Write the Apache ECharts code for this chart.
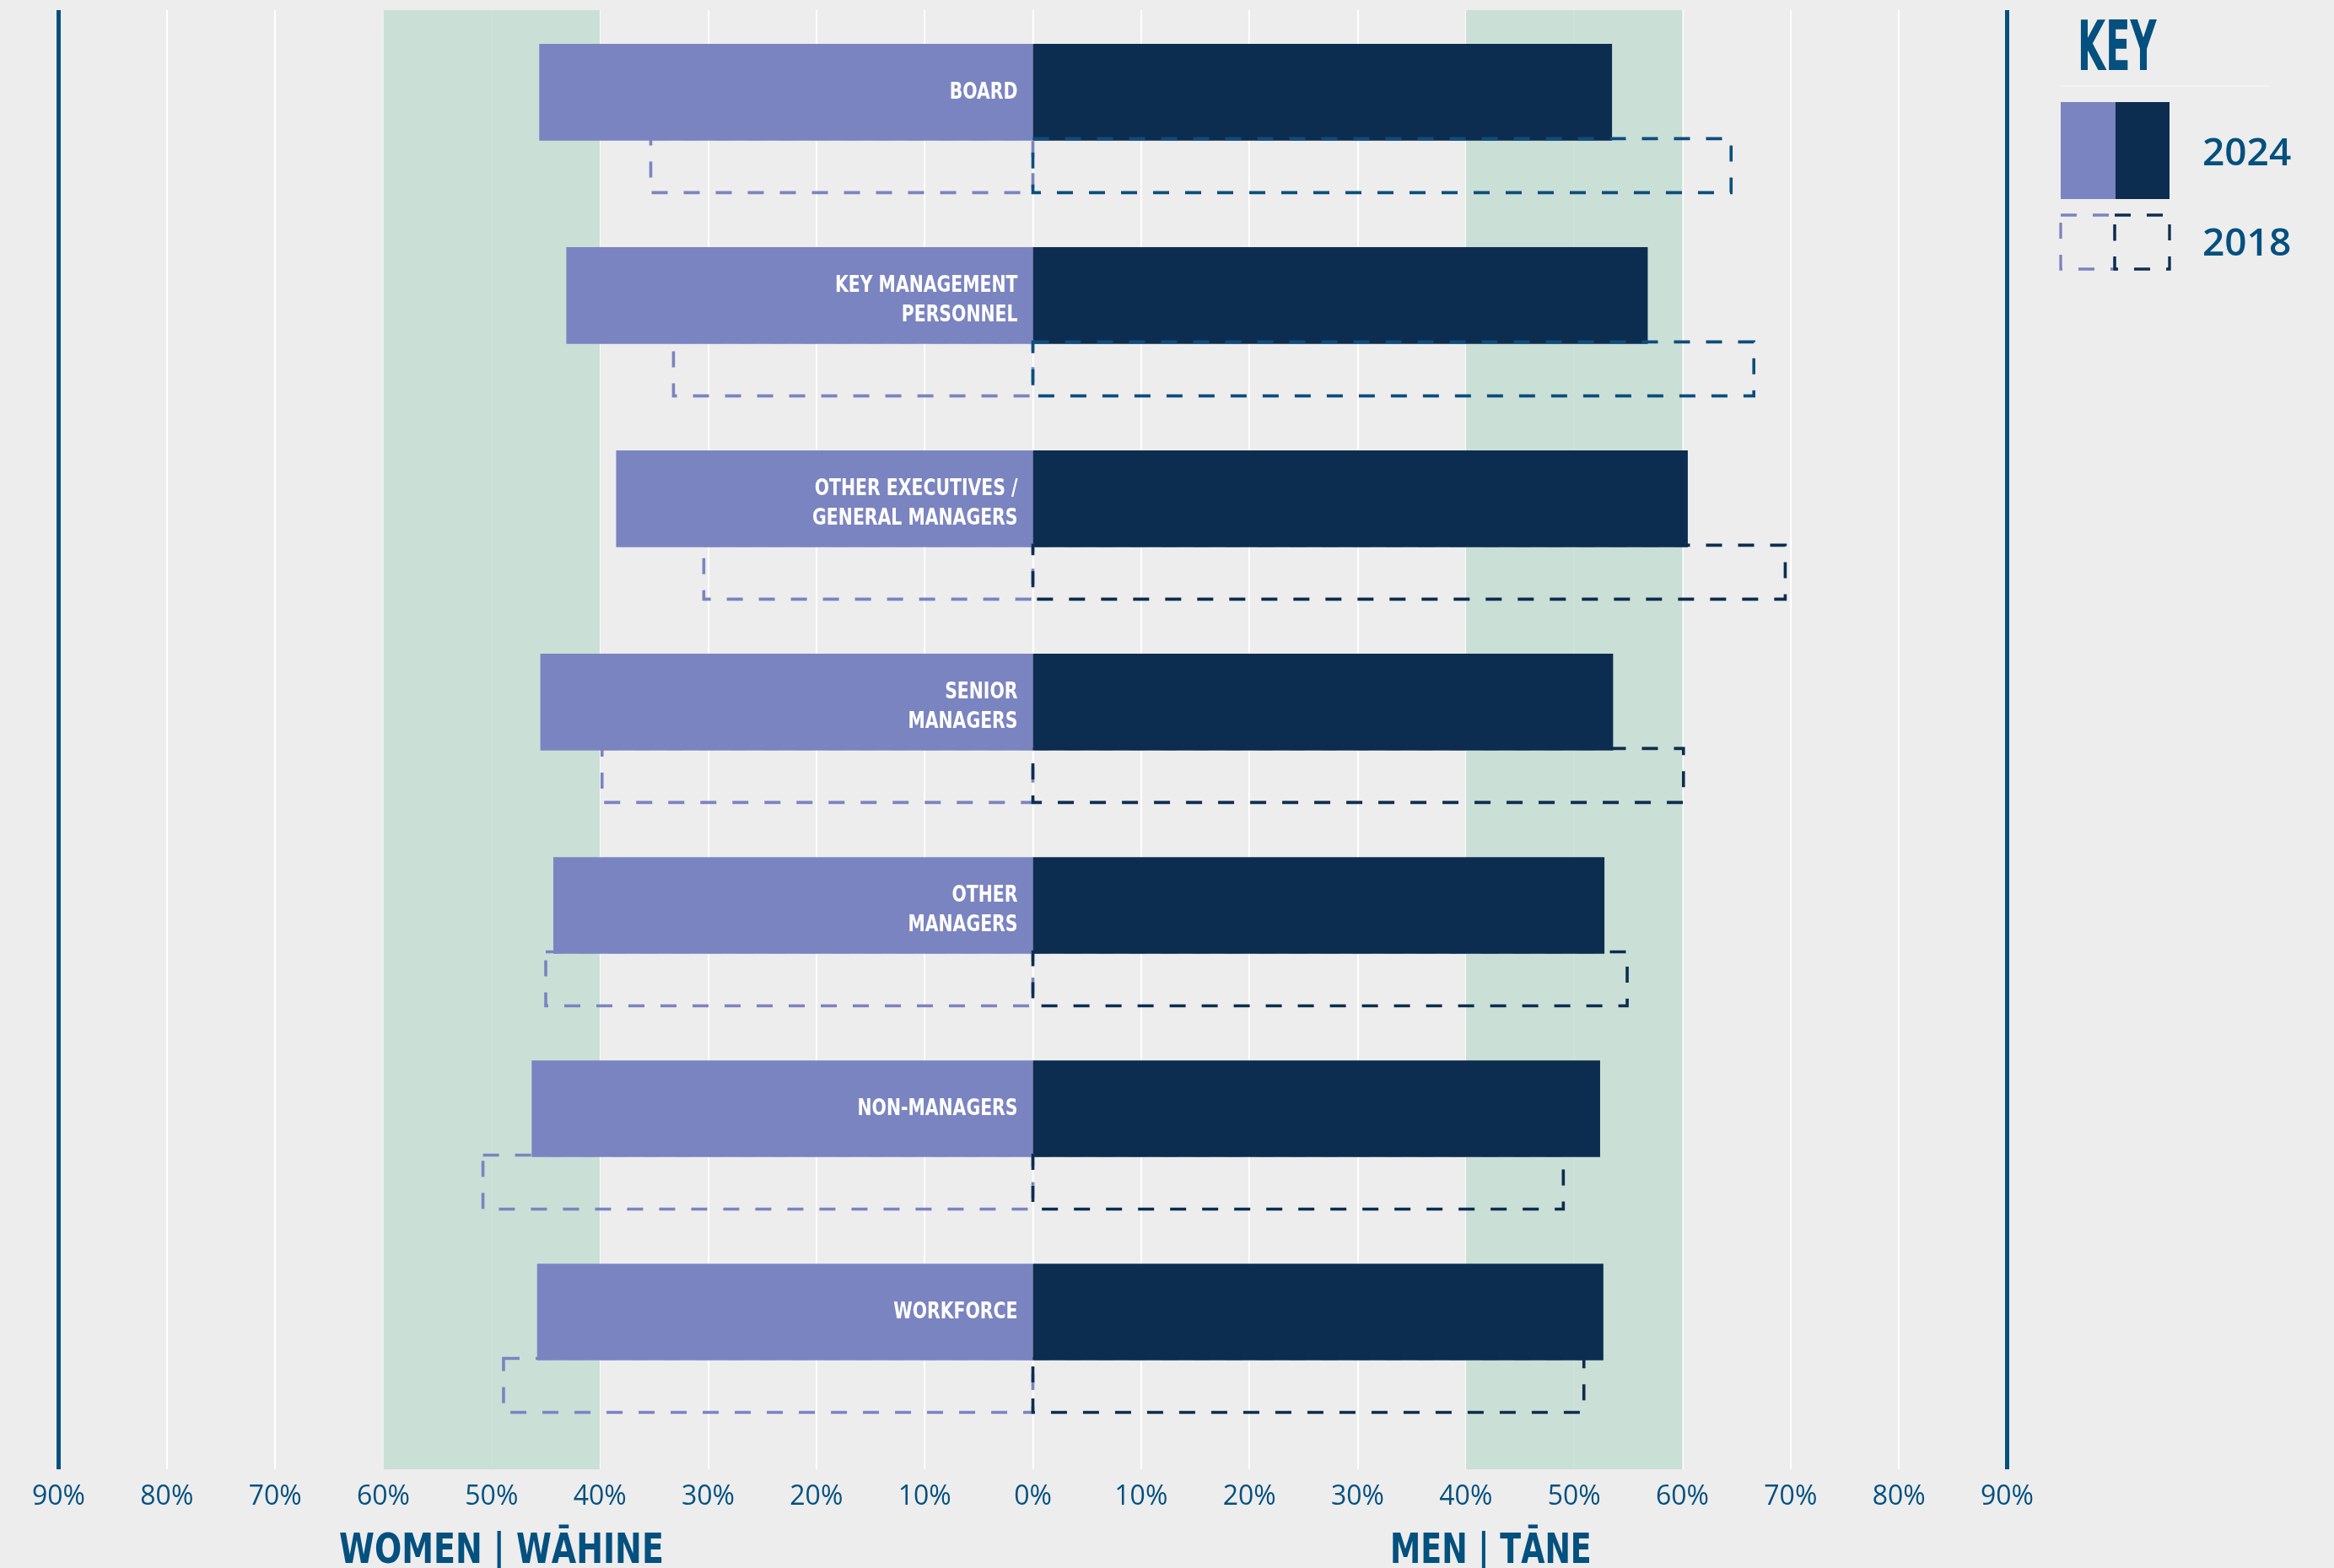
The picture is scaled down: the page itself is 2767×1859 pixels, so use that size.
<!DOCTYPE html>
<html>
<head>
<meta charset="utf-8">
<script src="https://cdn.jsdelivr.net/npm/echarts@6/dist/echarts.min.js"></script>
<style>
  html, body { margin: 0; padding: 0; background: #ededed; }
  #chart { width: 2767px; height: 1859px; }
</style>
</head>
<body>
<div id="chart"></div>
<script>
// Gender split by role level, 2024 vs 2018 (% of people in each role)
const categories = [
  'BOARD',
  'KEY MANAGEMENT\nPERSONNEL',
  'OTHER EXECUTIVES /\nGENERAL MANAGERS',
  'SENIOR\nMANAGERS',
  'OTHER\nMANAGERS',
  'NON-MANAGERS',
  'WORKFORCE'
];
const women2024 = [45.6, 43.1, 38.5, 45.5, 44.3, 46.3, 45.8];
const men2024   = [53.5, 56.8, 60.5, 53.6, 52.8, 52.4, 52.7];
const women2018 = [35.3, 33.2, 30.4, 39.8, 45.0, 50.8, 48.9];
const men2018   = [64.5, 66.6, 69.5, 60.1, 54.9, 49.0, 50.9];

// 40–60% balance zones on each side, and the outer 90% frame lines
const balanceBands = [[-60, -40], [40, 60]];
const frameLines = [-90, 90];

// colours
const WOMEN = '#7a84c1';
const MEN = '#0c2d4f';
const INK = '#04507f';
const BAND = 'rgba(195,220,209,0.85)';
const men2018Stroke = ['#0c4e7c', '#0c4e7c', MEN, MEN, MEN, MEN, MEN];

// drawing sizes (px)
const BAR_H = 114.6;
const BOX_TOP = 55;
const BOX_H = 64;
const DASH = [19, 19];
const NARROW = '"Liberation Sans Narrow", "DejaVu Sans Condensed", "Liberation Sans", sans-serif';

const chart = echarts.init(document.getElementById('chart'), null, { renderer: 'canvas' });

function renderBand(params, api) {
  const a = api.coord([api.value(0), 0]);
  const b = api.coord([api.value(1), 0]);
  const cs = params.coordSys;
  return {
    type: 'rect',
    shape: { x: a[0], y: cs.y, width: b[0] - a[0], height: cs.height },
    style: { fill: BAND }
  };
}

function renderFrame(params, api) {
  const p = api.coord([api.value(0), 0]);
  const cs = params.coordSys;
  return {
    type: 'line',
    shape: { x1: p[0], y1: cs.y, x2: p[0], y2: cs.y + cs.height },
    style: { stroke: INK, lineWidth: 5 }
  };
}

function render2024(params, api) {
  const i = api.value(0);
  const left = api.coord([-api.value(1), i]);
  const zero = api.coord([0, i]);
  const right = api.coord([api.value(2), i]);
  const top = zero[1] - BAR_H / 2;
  const twoLines = categories[i].indexOf('\n') >= 0;
  return {
    type: 'group',
    children: [
      { type: 'rect', shape: { x: left[0], y: top, width: zero[0] - left[0], height: BAR_H }, style: { fill: WOMEN } },
      { type: 'rect', shape: { x: zero[0], y: top, width: right[0] - zero[0], height: BAR_H }, style: { fill: MEN } },
      {
        type: 'text',
        x: zero[0] - 18, y: zero[1] + (twoLines ? 6 : 1), scaleX: 0.84,
        style: {
          text: categories[i], x: 0, y: 0,
          align: 'right', verticalAlign: 'middle', lineHeight: 35,
          font: 'bold 27px ' + NARROW, fill: '#ffffff'
        }
      }
    ]
  };
}

function render2018(params, api) {
  const i = api.value(0);
  const left = api.coord([-api.value(1), i]);
  const zero = api.coord([0, i]);
  const right = api.coord([api.value(2), i]);
  const top = zero[1] + BOX_TOP;
  return {
    type: 'group',
    children: [
      {
        type: 'rect', shape: { x: left[0], y: top, width: zero[0] - left[0], height: BOX_H },
        style: { fill: 'none', stroke: WOMEN, lineWidth: 3.6, lineDash: DASH }
      },
      {
        type: 'rect', shape: { x: zero[0], y: top, width: right[0] - zero[0], height: BOX_H },
        style: { fill: 'none', stroke: men2018Stroke[i], lineWidth: 3.6, lineDash: DASH }
      }
    ]
  };
}

const option = {
  backgroundColor: '#ededed',
  animation: false,
  grid: { left: 69.5, right: 387.5, top: 12, bottom: 117, containLabel: false },
  xAxis: {
    type: 'value', min: -90, max: 90, interval: 10,
    axisLine: { show: false }, axisTick: { show: false },
    splitLine: { show: true, lineStyle: { color: '#ffffff', width: 2 } },
    axisLabel: {
      margin: 17, color: INK, fontFamily: '"Open Sans", sans-serif', fontSize: 32,
      formatter: v => Math.abs(v) + '%'
    }
  },
  yAxis: {
    type: 'value', inverse: true, min: -0.404, max: 6.774,
    show: false, splitLine: { show: false }
  },
  series: [
    {
      type: 'custom', name: 'bands', z: 1, renderItem: renderBand,
      data: balanceBands, encode: { x: [0, 1] }, silent: true
    },
    {
      type: 'custom', name: 'frame', z: 2, renderItem: renderFrame,
      data: frameLines.map(v => [v]), encode: { x: 0 }, silent: true
    },
    {
      type: 'custom', name: '2024', z: 3, renderItem: render2024,
      data: categories.map((c, i) => [i, women2024[i], men2024[i]]),
      encode: { y: 0, x: 2 }
    },
    {
      type: 'custom', name: '2018', z: 4, renderItem: render2018,
      data: categories.map((c, i) => [i, women2018[i], men2018[i]]),
      encode: { y: 0, x: 2 }
    }
  ],
  graphic: [
    // key
    {
      type: 'text', x: 2463, y: 62, scaleX: 0.58,
      style: { text: 'KEY', font: 'bold 82px ' + NARROW, fill: INK, verticalAlign: 'middle' }
    },
    { type: 'line', shape: { x1: 2443, y1: 102, x2: 2692, y2: 102 }, style: { stroke: '#f4f4f4', lineWidth: 2 } },
    { type: 'rect', shape: { x: 2443, y: 121, width: 65, height: 115 }, style: { fill: WOMEN } },
    { type: 'rect', shape: { x: 2508, y: 121, width: 64, height: 115 }, style: { fill: MEN } },
    {
      type: 'rect', shape: { x: 2443, y: 255, width: 64, height: 64 },
      style: { fill: 'none', stroke: WOMEN, lineWidth: 3.3, lineDash: DASH }
    },
    {
      type: 'rect', shape: { x: 2507, y: 255, width: 65, height: 64 },
      style: { fill: 'none', stroke: MEN, lineWidth: 3.3, lineDash: DASH }
    },
    {
      type: 'text', x: 2611, y: 183,
      style: { text: '2024', font: '600 46px "Open Sans", sans-serif', fill: INK, verticalAlign: 'middle' }
    },
    {
      type: 'text', x: 2611, y: 290,
      style: { text: '2018', font: '600 46px "Open Sans", sans-serif', fill: INK, verticalAlign: 'middle' }
    },
    // side titles
    {
      type: 'text', x: 402, y: 1840, scaleX: 0.844,
      style: { text: 'WOMEN | WĀHINE', font: 'bold 50px ' + NARROW, fill: INK, verticalAlign: 'middle' }
    },
    {
      type: 'text', x: 1648, y: 1840, scaleX: 0.81,
      style: { text: 'MEN | TĀNE', font: 'bold 50px ' + NARROW, fill: INK, verticalAlign: 'middle' }
    }
  ]
};

chart.setOption(option);
</script>
</body>
</html>
